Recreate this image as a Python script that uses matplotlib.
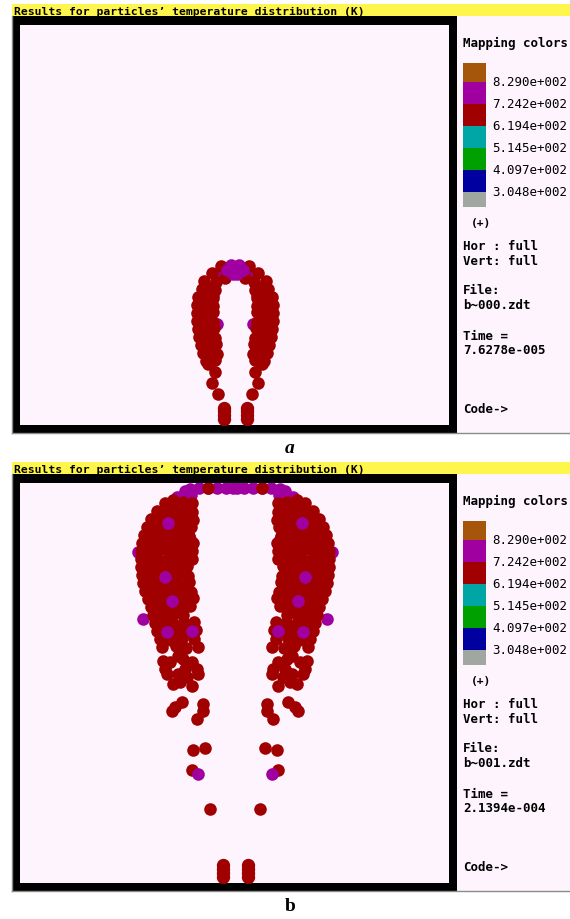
import matplotlib
matplotlib.use('Agg')

import matplotlib.pyplot as plt
from matplotlib.patches import Rectangle
import numpy as np

W, H = 570, 920
RED = '#a00000'
PURPLE = '#a000a0'
PANEL_BG = '#fdf4fd'
YELLOW = '#fff64d'
MONO = 'DejaVu Sans Mono'

title = "Results for particles\u2019 temperature distribution (K)"

# colour scale of the simulation viewer
legend_colors = ['#a5560b', '#a000a0', '#a00000', '#00a5a5', '#00a000', '#0000a0', '#a0a6a0']
legend_values = ['8.290e+002', '7.242e+002', '6.194e+002', '5.145e+002', '4.097e+002', '3.048e+002']

file_names = ['b~000.zdt', 'b~001.zdt']
times = ['7.6278e-005', '2.1394e-004']
captions = ['a', 'b']

# particles, left half only: (offset from jet axis, height above nozzle plane)
# ---- frame a ----
a_red = [
    (-14, 159), (-23, 152), (-31, 144), (-10, 147), (-19, 143),
    (-33, 136), (-26, 137), (-20, 135),
    (-37, 128), (-30, 129), (-22, 127),
    (-38, 120), (-30, 121), (-22, 119),
    (-38, 112), (-30, 111), (-22, 113),
    (-38, 104), (-31, 105), (-22, 103),
    (-37, 96), (-29, 95), (-21, 97),
    (-36, 88), (-28, 89), (-20, 87),
    (-34, 80), (-26, 79), (-19, 81),
    (-32, 72), (-24, 73), (-18, 71),
    (-29, 64), (-20, 65),
    (-27, 61), (-20, 53), (-23, 42), (-17, 31),
]
a_purple_under = [(-35, 110), (-24, 92), (-18, 101), (-22, 130), (-17, 150)]
a_purple_top = [(-4, 160), (-2, 151), (-8, 155)]
a_capsule = [(-11.5, 6), (-11.5, 10), (-11.5, 14), (-11.5, 17)]

# ---- frame b ----
b_cap_purple = [
    (-45, 394), (-36, 395), (-27, 395), (-18, 395), (-9, 395), (-2, 395),
    (-44, 388), (-52, 387), (-58, 386), (-50, 392),
]
b_red = [
    (-27, 395), (-62, 383),
    (-70, 380), (-61, 379), (-52, 381), (-43, 380),
    (-78, 372), (-69, 373), (-60, 371), (-51, 372), (-43, 371),
    (-84, 364), (-75, 365), (-66, 363), (-57, 364), (-48, 365), (-42, 363),
    (-88, 356), (-79, 355), (-70, 357), (-61, 356), (-52, 354), (-44, 356),
    (-91, 348), (-82, 349), (-73, 347), (-64, 348), (-55, 349), (-46, 347),
    (-93, 340), (-84, 341), (-75, 339), (-66, 340), (-57, 341), (-48, 339), (-42, 340),
    (-94, 332), (-85, 331), (-76, 333), (-67, 332), (-58, 331), (-49, 333), (-43, 332),
    (-94, 324), (-85, 325), (-76, 323), (-67, 324), (-58, 325), (-49, 323), (-43, 324),
    (-94, 316), (-84, 315), (-75, 317), (-66, 316), (-57, 315), (-48, 317),
    (-93, 308), (-84, 309), (-75, 307), (-66, 308), (-57, 309), (-47, 307),
    (-92, 300), (-83, 299), (-74, 301), (-65, 300), (-56, 299), (-46, 301),
    (-90, 292), (-81, 293), (-72, 291), (-63, 292), (-54, 293), (-44, 291),
    (-87, 284), (-78, 283), (-69, 285), (-60, 284), (-51, 283), (-42, 285),
    (-84, 276), (-75, 277), (-65, 275), (-55, 276), (-45, 277),
    (-82, 268), (-72, 267), (-62, 269), (-52, 268),
    (-80, 260), (-70, 261), (-61, 259), (-51, 260), (-41, 261),
    (-78, 252), (-67, 253), (-57, 251), (-48, 252), (-39, 253),
    (-75, 244), (-64, 243), (-53, 245), (-41, 244),
    (-73, 236), (-59, 237), (-49, 235), (-37, 236),
    (-72, 222), (-52, 224), (-43, 221), (-38, 214), (-68, 209), (-57, 209),
    (-48, 206), (-62, 199), (-43, 197), (-37, 209),
    (-65, 221), (-57, 227), (-70, 214), (-50, 214), (-55, 201),
    (-60, 176), (-53, 181), (-32, 179), (-32, 172), (-38, 164), (-63, 172),
    (-42, 133), (-30, 135),
    (-43, 113),
    (-25, 74),
]
b_purple_under = [
    (-97, 331), (-82, 311), (-83, 277), (-72, 339), (-45, 344), (-92, 264),
    (-90, 320), (-55, 360),
]
b_purple_top = [(-67, 360), (-70, 306), (-68, 251), (-43, 252), (-37, 109), (-63, 282)]
b_capsule = [(-12.5, 6), (-12.5, 10), (-12.5, 14), (-12.5, 18)]


def both_sides(pts):
    return pts + [(-x, h) for x, h in pts]


def xy(pts):
    arr = np.array(both_sides(pts), dtype=float)
    return arr[:, 0], arr[:, 1]


fig = plt.figure(figsize=(W / 100, H / 100), dpi=100)
bg = fig.add_axes([0, 0, 1, 1])
bg.set_xlim(0, W)
bg.set_ylim(H, 0)
bg.axis('off')

DOT = 82
CAPS = 92


def draw_panel(off, red, p_under, p_top, capsule, fname, time, caption, cap_style):
    # window chrome
    bg.add_patch(Rectangle((12, 5 + off), W - 12, 12, color=YELLOW, lw=0))
    bg.text(14, 11.5 + off, title, fontsize=8.2, family=MONO, weight='bold',
            va='center', ha='left', color='black')
    bg.add_patch(Rectangle((12, 17 + off), 445, 417, color='black', lw=0))
    bg.add_patch(Rectangle((20, 26 + off), 429, 400, color=PANEL_BG, lw=0))
    bg.add_patch(Rectangle((457, 17 + off), W - 457, 417, color=PANEL_BG, lw=0))
    bg.plot([12, W], [434 + off, 434 + off], color='#8c8c8c', lw=1)
    bg.plot([12, 12], [17 + off, 434 + off], color='#8c8c8c', lw=1)

    # legend
    bg.text(463, 43 + off, 'Mapping colors', fontsize=9, family=MONO, weight='bold', va='center')
    edges = [64, 83, 105, 127, 149, 171, 193, 208]
    for i, col in enumerate(legend_colors):
        bg.add_patch(Rectangle((463, edges[i] + off), 23, edges[i + 1] - edges[i], color=col, lw=0))
    for i, val in enumerate(legend_values):
        bg.text(492, edges[i + 1] + off, val, fontsize=9, family=MONO, va='center')
    bg.text(471, 223 + off, '(+)', fontsize=8, family=MONO, weight='bold', va='center')

    info = [('Hor : full', 247), ('Vert: full', 262), ('File:', 291), (fname, 306),
            ('Time =', 337), (time, 351), ('Code->', 410)]
    for txt, y in info:
        bg.text(463, y + off, txt, fontsize=9, family=MONO, weight='bold', va='center')

    bg.text(290, 449 + off, caption, fontsize=14, family='Liberation Serif',
            weight='bold', style=cap_style, ha='center', va='center')

    # particle view
    ax = fig.add_axes([20 / W, 1 - (426 + off) / H, 429 / W, 400 / H])
    ax.set_xlim(-215, 214)
    ax.set_ylim(0, 400)
    ax.axis('off')
    x, y = xy(p_under)
    ax.scatter(x, y, s=DOT, c=PURPLE, linewidths=0)
    x, y = xy(red)
    ax.scatter(x, y, s=DOT, c=RED, linewidths=0)
    x, y = xy(p_top)
    ax.scatter(x, y, s=DOT, c=PURPLE, linewidths=0)
    x, y = xy(capsule)
    ax.scatter(x, y, s=CAPS, c=RED, linewidths=0)
    return ax


draw_panel(0, a_red, a_purple_under, a_purple_top, a_capsule,
           file_names[0], times[0], captions[0], 'italic')
ax_b = draw_panel(458, b_red, b_purple_under, b_purple_top, b_capsule,
                  file_names[1], times[1], captions[1], 'normal')
# purple cap of frame b sits under the two red cap particles
x, y = xy(b_cap_purple)
ax_b.scatter(x, y, s=DOT, c=PURPLE, linewidths=0, zorder=0.5)

plt.savefig('out.png', dpi=100, facecolor='white')
plt.close()
